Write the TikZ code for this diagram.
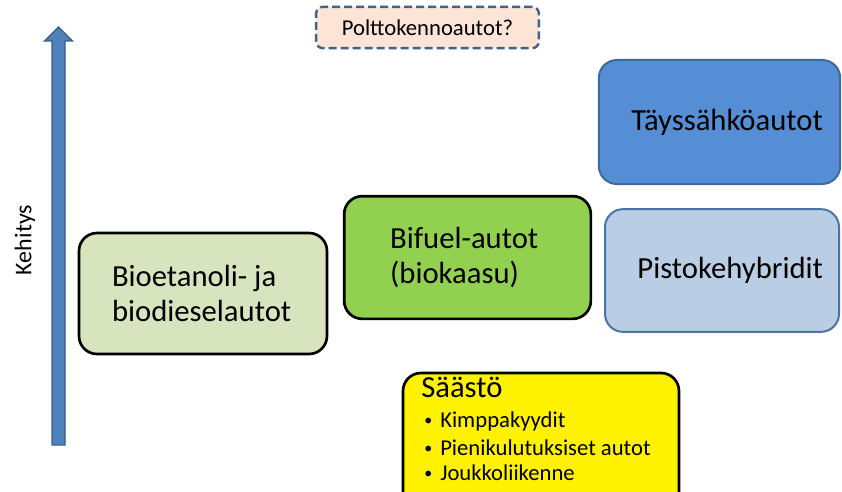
\documentclass[tikz,border=0pt]{standalone}
\usepackage{fontspec}
\setmainfont{Carlito}
\usepackage{tikz}
\definecolor{arrowBlue}{RGB}{79, 129, 189}
\definecolor{arrowEdge}{RGB}{56, 93, 138}
\definecolor{peach}{RGB}{252, 229, 214}
\definecolor{dashBlue}{RGB}{65, 96, 140}
\definecolor{bioGreen}{RGB}{215, 228, 189}
\definecolor{gasGreen}{RGB}{146, 208, 80}
\definecolor{evBlue}{RGB}{85, 142, 213}
\definecolor{evEdge}{RGB}{62, 106, 158}
\definecolor{hybBlue}{RGB}{185, 205, 229}
\definecolor{hybEdge}{RGB}{75, 115, 168}

\tikzset{
  bigtext/.style={font=\fontsize{23}{26}\selectfont},
  smalltext/.style={font=\fontsize{17}{20}\selectfont},
  blackbox/.style={draw=black, line width=2pt, rounded corners=13.5pt, align=flush left, inner sep=0pt, bigtext},
  bluebox/.style={line width=1.5pt, rounded corners=13.5pt, align=flush right, inner sep=0pt, bigtext}
}

\begin{document}
\begin{tikzpicture}[x=0.75pt, y=-0.75pt]
      \useasboundingbox (0,0) rectangle (842,492);
      \clip (0,0) rectangle (842,492);

      % development arrow on the left
      \filldraw[fill=arrowBlue, draw=arrowEdge, line width=1pt, line join=miter]
        (52,445) -- (52,41) -- (44.5,41) -- (58.5,27) -- (72.5,41) -- (65,41) -- (65,445) -- cycle;
      \node[font=\fontsize{18}{20}\selectfont, rotate=90] (kehitys) at (25,240) {Kehitys};

      % fuel cell cars, still open
      \node[smalltext, draw=dashBlue, fill=peach, line width=1.8pt, dash pattern=on 6pt off 3pt,
            rounded corners=5pt, minimum width=167pt, minimum height=31pt] (polt) at (427.5,27.5) {Polttokennoautot?};

      % biofuel cars
      \node[blackbox, fill=bioGreen, text width=136.5pt, minimum width=186pt, minimum height=90.75pt] (bio) at (203,293.5)
        {Bioetanoli- ja\\biodieselautot};
      \node[blackbox, fill=gasGreen, text width=116pt, minimum width=185pt, minimum height=92pt] (bifuel) at (467.5,257.5)
        {Bifuel-autot\\(biokaasu)};

      % electric cars
      \node[bluebox, draw=evEdge, fill=evBlue, text width=155pt, minimum width=181pt, minimum height=93pt] (taysi) at (719.5,122)
        {Täyssähköautot};
      \node[bluebox, draw=hybEdge, fill=hybBlue, text width=151.5pt, minimum width=175.5pt, minimum height=92pt] (pisto) at (722,270.5)
        {Pistokehybridit};

      % saving
      \node[blackbox, fill=yellow, minimum width=207pt, minimum height=103.5pt] (saasto) at (541,442) {};
      \node[bigtext, anchor=base west, inner sep=0pt] (saastotitle) at (421,397) {Säästö};
      \foreach \txt/\yy [count=\i] in {Kimppakyydit/427, Pienikulutuksiset autot/455, Joukkoliikenne/480}
        \node[smalltext, anchor=base west, inner sep=0pt] (item\i) at (424,\yy)
          {\makebox[12pt][l]{\fontsize{12}{12}\selectfont\raisebox{1.2pt}{\textbullet}}\txt};
\end{tikzpicture}
\end{document}
